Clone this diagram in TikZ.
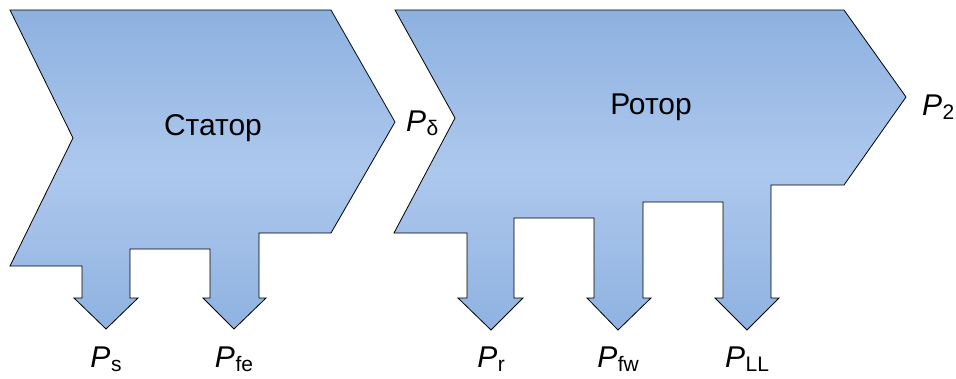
\documentclass[tikz,border=0pt]{standalone}
\usepackage{fontspec}
\setmainfont{Liberation Sans}
\definecolor{flowtop}{HTML}{8DB1E0}
\definecolor{flowmid}{HTML}{ADC8ED}
\definecolor{flowbot}{HTML}{8FB2E1}
\tikzset{
  flow/.style={draw=black, line width=0.8pt, line join=miter, top color=flowtop, bottom color=flowbot, middle color=flowmid},
  blocklabel/.style={font=\fontsize{30}{32}\selectfont, inner sep=0pt},
  powerlabel/.style={font=\fontsize{30}{32}\selectfont, inner sep=0pt, anchor=base}
}
\newcommand{\pwr}[1]{\textit{P}\kern0.5pt\raisebox{-4pt}{\fontsize{21}{21}\selectfont #1}}

\begin{document}
\begin{tikzpicture}[x=1pt, y=-1pt]
  \useasboundingbox (0,0) rectangle (956,378);

  % stator
  \shade[flow] (10,10) -- (331,10) -- (395,122) -- (331,233) -- (259,233) -- (259,298)
    -- (266,298) -- (234,329) -- (203,298) -- (210,298) -- (210,249) -- (130,249)
    -- (130,298) -- (138,298) -- (106,329) -- (74,298) -- (82,298) -- (82,266)
    -- (10,266) -- (73,138) -- cycle;
  \node[blocklabel] (stator) at (213,128) {Статор};

  % rotor
  \shade[flow] (395,10) -- (844,10) -- (906,97) -- (844,185) -- (771,185) -- (771,298)
    -- (779,298) -- (747,330) -- (715,298) -- (723,298) -- (723,202) -- (643,202)
    -- (643,298) -- (651,298) -- (618,330) -- (587,298) -- (594,298) -- (594,218)
    -- (514,218) -- (514,298) -- (523,298) -- (491,330) -- (458,298) -- (467,298)
    -- (467,233) -- (394,233) -- (455,118) -- cycle;
  \node[blocklabel] (rotor) at (651,107) {Ротор};

  \node[powerlabel, anchor=base west] (pdelta) at (406,131) {\pwr{δ}};
  \node[powerlabel, anchor=base west] (ptwo) at (922,115) {\pwr{2}};

  \node[powerlabel] (ps) at (106,367) {\pwr{s}};
  \node[powerlabel] (pfe) at (234,367) {\pwr{fe}};
  \node[powerlabel] (pr) at (491,367) {\pwr{r}};
  \node[powerlabel] (pfw) at (618,367) {\pwr{fw}};
  \node[powerlabel] (pll) at (747,367) {\pwr{LL}};
\end{tikzpicture}
\end{document}
